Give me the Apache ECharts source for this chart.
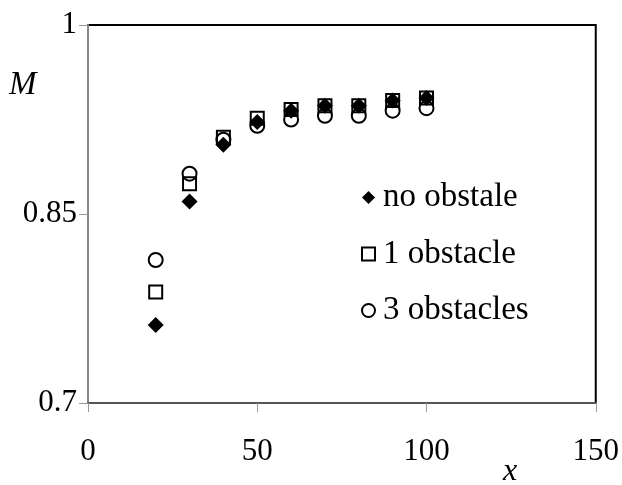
<!DOCTYPE html>
<html><head><meta charset="utf-8">
<script src="https://cdn.jsdelivr.net/npm/echarts@6/dist/echarts.min.js"></script>
<style>html,body{margin:0;padding:0;background:#fff}#c{width:622px;height:485px}</style>
</head><body><div id="c"></div>
<script>
const xValues = [20, 30, 40, 50, 60, 70, 80, 90, 100];
const noObstacle = [0.762, 0.860, 0.905, 0.923, 0.932, 0.936, 0.936, 0.940, 0.942];
const oneObstacle = [0.788, 0.874, 0.911, 0.926, 0.933, 0.936, 0.936, 0.940, 0.942];
const threeObstacles = [0.8135, 0.882, 0.909, 0.920, 0.925, 0.928, 0.928, 0.932, 0.934];
const seriesNames = ['no obstale', '1 obstacle', '3 obstacles'];
const yTicks = [0.7, 0.85, 1];
const xTicks = [0, 50, 100, 150];

const font = '"Liberation Serif", "DejaVu Serif", serif';
const pair = arr => xValues.map((x, i) => [x, arr[i]]);
const chart = echarts.init(document.getElementById('c'));
chart.setOption({
  animation: false,
  backgroundColor: '#fff',
  grid: {left: 88, right: 24, top: 25, bottom: 82, show: true, borderColor: '#000', borderWidth: 2, backgroundColor: 'transparent'},
  xAxis: {
    type: 'value', min: 0, max: 150, interval: 50,
    axisLine: {show: true, lineStyle: {color: '#555', width: 2}},
    axisTick: {show: true, length: 9, customValues: xTicks, lineStyle: {color: '#999', width: 1}},
    splitLine: {show: false},
    axisLabel: {color: '#000', fontFamily: font, fontSize: 31, margin: 33, customValues: xTicks}
  },
  yAxis: {
    type: 'value', min: 0.7, max: 1,
    axisLine: {show: true, lineStyle: {color: '#888', width: 2}},
    axisTick: {show: true, length: 9, customValues: yTicks, lineStyle: {color: '#999', width: 1}},
    splitLine: {show: false},
    axisLabel: {color: '#000', fontFamily: font, fontSize: 31, margin: 11, customValues: yTicks,
      formatter: v => String(Math.round(v * 100) / 100)}
  },
  legend: {
    orient: 'vertical', left: 356, top: 176, itemGap: 23.5, itemWidth: 13, itemHeight: 13,
    textStyle: {fontFamily: font, fontSize: 33, color: '#000', padding: [0, 0, 0, 3]},
    data: seriesNames
  },
  graphic: [
    {type: 'text', left: 9, top: 69, style: {text: 'M', font: 'italic 33px ' + font, fill: '#000'}},
    {type: 'text', left: 503, top: 456, style: {text: 'x', font: 'italic 32px ' + font, fill: '#000'}}
  ],
  series: [
    {name: seriesNames[0], type: 'scatter', data: pair(noObstacle), symbol: 'diamond', symbolSize: 16,
      itemStyle: {color: '#000', opacity: 1}},
    {name: seriesNames[1], type: 'scatter', data: pair(oneObstacle), symbol: 'rect', symbolSize: 13,
      itemStyle: {color: 'transparent', borderColor: '#000', borderWidth: 2, opacity: 1}},
    {name: seriesNames[2], type: 'scatter', data: pair(threeObstacles), symbol: 'circle', symbolSize: 14,
      itemStyle: {color: 'transparent', borderColor: '#000', borderWidth: 2, opacity: 1}}
  ]
});
</script></body></html>
